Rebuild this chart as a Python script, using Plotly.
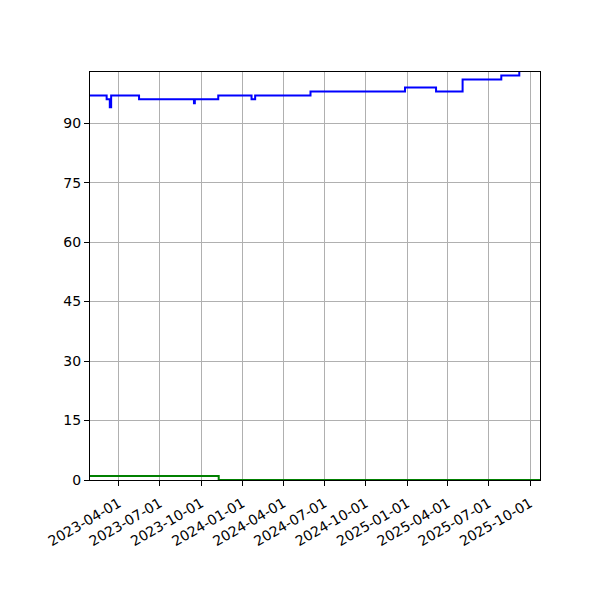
import plotly.graph_objects as go

# blue series (step changes)
blue_dates = ['2023-01-27', '2023-03-05', '2023-03-12', '2023-03-15', '2023-05-16',
              '2023-09-15', '2023-09-17', '2023-11-08', '2024-01-21', '2024-01-29',
              '2024-05-31', '2024-12-27', '2025-03-06', '2025-05-04', '2025-07-29',
              '2025-09-07', '2025-09-08']
blue_vals = [97, 96, 94, 97, 96, 95, 96, 97, 96, 97, 98, 99, 98, 101, 102, 102.9, 102.9]

# green series
green_dates = ['2023-01-27', '2023-11-09', '2025-10-23']
green_vals = [1, 0, 0]

x_ticks = ['2023-04-01', '2023-07-01', '2023-10-01', '2024-01-01', '2024-04-01',
           '2024-07-01', '2024-10-01', '2025-01-01', '2025-04-01', '2025-07-01',
           '2025-10-01']
y_ticks = [0, 15, 30, 45, 60, 75, 90]

fig = go.Figure()
fig.add_trace(go.Scatter(x=blue_dates, y=blue_vals, mode='lines',
                         line=dict(color='#0000ff', width=2, shape='hv'),
                         showlegend=False))
fig.add_trace(go.Scatter(x=green_dates, y=green_vals, mode='lines',
                         line=dict(color='#008000', width=2, shape='hv'),
                         showlegend=False))

axis_style = dict(showline=True, linecolor='black', linewidth=1, mirror=True,
                  showgrid=True, gridcolor='#b0b0b0', gridwidth=1,
                  ticks='outside', ticklen=5, tickcolor='black', zeroline=False,
                  automargin=False, layer='below traces',
                  tickfont=dict(family='DejaVu Sans', size=14, color='black'))

fig.update_xaxes(type='date', range=['2023-01-27', '2025-10-23'],
                 tickvals=x_ticks, ticktext=x_ticks, tickangle=-30,
                 ticklabelstandoff=4, **axis_style)
fig.update_yaxes(range=[0, 102.9], tickvals=y_ticks, **axis_style)

# page body adds 8px, so margins are offset to land the axes at 90..540 / 72..480
fig.update_layout(width=600, height=600,
                  margin=dict(l=82, r=68, t=64, b=128),
                  plot_bgcolor='white', paper_bgcolor='white')

fig.write_html("out.html")
